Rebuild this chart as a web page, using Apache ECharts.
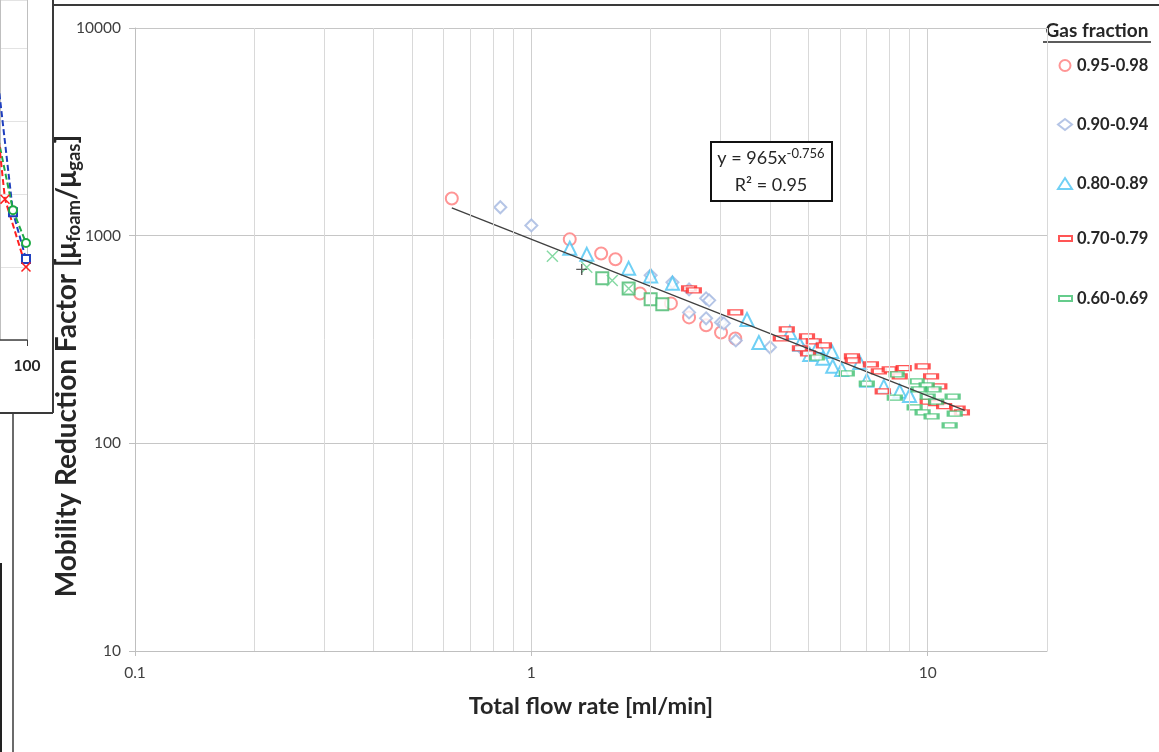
<!DOCTYPE html>
<html>
<head>
<meta charset="utf-8">
<script src="https://cdn.jsdelivr.net/npm/echarts@6/dist/echarts.min.js"></script>
<style>
html, body { margin: 0; padding: 0; background: #fff; }
#chart { width: 1159px; height: 752px; }
</style>
</head>
<body>
<div id="chart"></div>
<script>
const FONT = 'Lato, "Open Sans", sans-serif';

// gas fraction groups: [total flow rate ml/min, mobility reduction factor]
const gas95to98 = [
    [0.63, 1510], [1.25, 960], [1.50, 820], [1.63, 770], [1.88, 527],
    [2.25, 472], [2.50, 404], [2.76, 370], [3.01, 342], [3.27, 320]
];
const gas90to94 = [
    [0.835, 1370], [1.0, 1120], [2.0, 644], [2.27, 596], [2.5, 551],
    [2.76, 499], [2.81, 488], [2.5, 427], [2.76, 400], [3.01, 382],
    [3.06, 378], [3.28, 313], [4.0, 290], [4.8, 287]
];
const gas80to89 = [
    [1.25, 870], [1.38, 813], [1.76, 696], [2.0, 640], [2.27, 590],
    [3.5, 395], [3.75, 306], [4.49, 342], [4.76, 300], [5.28, 293],
    [5.73, 277], [5.04, 268], [5.44, 257], [5.76, 235], [6.07, 227],
    [6.74, 245], [7.02, 201], [7.75, 188], [8.5, 178], [9.0, 170]
];
const gas70to79 = [
    [2.5, 557], [2.57, 545], [3.27, 427], [4.41, 354], [4.26, 320],
    [4.96, 327], [5.16, 310], [5.47, 296], [4.99, 271], [4.76, 287],
    [6.44, 262], [6.47, 251], [7.19, 240], [7.53, 222], [8.02, 227],
    [8.7, 230], [8.5, 210], [9.71, 235], [10.2, 210], [10.7, 188],
    [10.0, 159], [10.5, 156], [11.0, 151], [11.9, 147], [12.2, 141],
    [7.7, 178]
];
const gas60to69 = [
    [5.25, 259], [6.25, 217], [7.02, 194], [8.35, 215], [8.26, 166],
    [9.38, 199], [9.94, 190], [9.49, 182], [10.35, 182], [10.0, 168],
    [11.56, 168], [10.5, 159], [9.27, 149], [9.71, 141], [10.23, 135],
    [11.7, 139], [11.36, 122]
];
// extra markers without legend entry
const greenCross = [[1.13, 795], [1.38, 704], [1.60, 609], [1.76, 557]];
const greenSquare = [[1.51, 623], [1.76, 557], [2.0, 494], [2.14, 467]];
const blackPlus = [[1.34, 688]];

// power-law fit y = 965x^-0.756, end points
const fitLine = [[0.63, 1360], [12.4, 144]];

const minorX = [0.2, 0.3, 0.4, 0.5, 0.6, 0.7, 0.8, 0.9, 2, 3, 4, 5, 6, 7, 8, 9, 20];

// cropped neighbour panel on the left
const leftBlue = [[86.07, 5.71], [95.85, 1.75], [99.7, 1.11]];
const leftGreen = [[86.07, 3.97], [95.85, 1.78], [99.7, 1.33]];
const leftRed = [[86.07, 5.15], [93.48, 1.93], [99.7, 1.0]];

const legendNames = ['0.95-0.98', '0.90-0.94', '0.80-0.89', '0.70-0.79', '0.60-0.69'];

const chart = echarts.init(document.getElementById('chart'));

const logLabel = (v) => String(+Number(v).toPrecision(6));

function scatter(name, data, symbol, size, color) {
    return {
        name: name,
        type: 'scatter',
        data: data,
        symbol: symbol,
        symbolSize: size,
        itemStyle: { color: color, borderColor: color, borderWidth: 1.2 },
        z: 3
    };
}

function pathScatter(name, data, path, size, color) {
    return {
        name: name,
        type: 'scatter',
        data: data,
        symbol: path,
        symbolSize: size,
        itemStyle: { color: 'transparent', borderColor: color, borderWidth: 1.4 },
        z: 3
    };
}

function leftLine(data, color, symbol, size) {
    return {
        type: 'line',
        xAxisIndex: 1,
        yAxisIndex: 1,
        data: data.map((d, i) => i === 0 ? { value: d, symbol: 'none' } : d),
        symbol: symbol,
        symbolSize: size,
        showAllSymbol: true,
        clip: true,
        lineStyle: { color: color, width: 2, type: [6, 3] },
        itemStyle: { color: color, borderColor: color, borderWidth: 1.5 },
        silent: true
    };
}

const legendText = { fontFamily: FONT, fontSize: 16.5, fontWeight: 'bold', color: '#262626', lineHeight: 16 };

chart.setOption({
    animation: false,
    backgroundColor: '#fff',
    grid: [
        { left: 135, right: 112, top: 28, bottom: 101 },
        { left: 0, width: 27, top: 0, bottom: 412 }
    ],
    legend: [
        {
            data: legendNames.slice(0, 3),
            orient: 'vertical',
            left: 1052,
            top: 52,
            itemWidth: 14,
            itemHeight: 11,
            itemGap: 42,
            textStyle: legendText
        },
        {
            data: legendNames.slice(3),
            orient: 'vertical',
            left: 1053,
            top: 225,
            itemWidth: 13,
            itemHeight: 5,
            itemGap: 43,
            textStyle: legendText
        }
    ],
    xAxis: [
        {
            type: 'log',
            logBase: 10,
            min: 0.1,
            max: 20,
            gridIndex: 0,
            name: 'Total flow rate [ml/min]',
            nameLocation: 'middle',
            nameGap: 43,
            nameTextStyle: { fontFamily: FONT, fontSize: 23.5, fontWeight: 'bold', color: '#262626' },
            axisLine: { lineStyle: { color: '#bfbfbf' } },
            axisTick: { show: true, length: 5, lineStyle: { color: '#bfbfbf' } },
            axisLabel: { fontFamily: FONT, fontSize: 15.5, color: '#404040', margin: 14, showMaxLabel: false, formatter: logLabel },
            splitLine: { show: true, lineStyle: { color: '#cfcfcf' } }
        },
        {
            type: 'value',
            gridIndex: 1,
            min: 92,
            max: 100,
            interval: 8,
            axisLine: { lineStyle: { color: '#404040', width: 1.5 } },
            axisTick: { show: true, length: 6, lineStyle: { color: '#404040' } },
            axisLabel: { fontFamily: FONT, fontSize: 15.5, fontWeight: 'bold', color: '#262626', margin: 18, showMinLabel: false },
            splitLine: { show: true, lineStyle: { color: '#bfbfbf' } }
        }
    ],
    yAxis: [
        {
            type: 'log',
            logBase: 10,
            min: 10,
            max: 10000,
            gridIndex: 0,
            axisLine: { show: true, lineStyle: { color: '#bfbfbf' } },
            axisTick: { show: true, length: 6, lineStyle: { color: '#bfbfbf' } },
            axisLabel: { fontFamily: FONT, fontSize: 15.5, color: '#404040', margin: 14, formatter: logLabel },
            splitLine: { show: true, lineStyle: { color: '#c6c6c6' } }
        },
        {
            type: 'value',
            gridIndex: 1,
            min: 0,
            max: 4.66,
            interval: 1,
            axisLine: { show: false },
            axisTick: { show: false },
            axisLabel: { show: false },
            splitLine: { show: true, lineStyle: { color: '#e3e3e3' } }
        }
    ],
    series: [
        {
            type: 'line',
            data: [],
            silent: true,
            z: 1,
            markLine: {
                silent: true,
                symbol: ['none', 'none'],
                label: { show: false },
                lineStyle: { color: '#d9d9d9', type: 'solid', width: 1 },
                data: minorX.map(v => ({ xAxis: v }))
            }
        },
        scatter(legendNames[0], gas95to98, 'emptyCircle', 12, '#ff7b7b'),
        scatter(legendNames[1], gas90to94, 'emptyDiamond', 12, '#a3b6e0'),
        scatter(legendNames[2], gas80to89, 'emptyTriangle', 13, '#4cc4f2'),
        scatter(legendNames[3], gas70to79, 'emptyRect', [13, 5], '#ff2a2a'),
        scatter(legendNames[4], gas60to69, 'emptyRect', [13, 5], '#3fbf6f'),
        scatter('squares', greenSquare, 'emptyRect', 12, '#45b86c'),
        pathScatter('cross', greenCross, 'path://M0 0L10 10M10 0L0 10', 11, '#66cf8c'),
        pathScatter('plus', blackPlus, 'path://M5 0L5 10M0 5L10 5', 11, '#333333'),
        {
            name: 'fit',
            type: 'line',
            data: fitLine,
            symbol: 'none',
            lineStyle: { color: '#404040', width: 1.3 },
            z: 4,
            silent: true
        },
        leftLine(leftBlue, '#1f3fbf', 'emptyRect', 8),
        leftLine(leftGreen, '#1faa45', 'emptyCircle', 8),
        leftLine(leftRed, '#ff2020', 'path://M0 0L10 10M10 0L0 10', 9)
    ],
    graphic: [
        // frame of this panel and neighbouring cropped panels
        { type: 'line', shape: { x1: 53, y1: 5, x2: 1159, y2: 5 }, style: { stroke: '#3a3a3a', lineWidth: 2 }, silent: true },
        { type: 'line', shape: { x1: 53, y1: 0, x2: 53, y2: 413 }, style: { stroke: '#3a3a3a', lineWidth: 2 }, silent: true },
        { type: 'line', shape: { x1: 0, y1: 413, x2: 53, y2: 413 }, style: { stroke: '#3a3a3a', lineWidth: 2 }, silent: true },
        { type: 'line', shape: { x1: 13, y1: 413, x2: 13, y2: 752 }, style: { stroke: '#3a3a3a', lineWidth: 1.5 }, silent: true },
        { type: 'line', shape: { x1: 1, y1: 563, x2: 1, y2: 752 }, style: { stroke: '#222', lineWidth: 2 }, silent: true },
        // y axis title
        {
            type: 'text',
            x: 67,
            y: 366,
            rotation: Math.PI / 2,
            silent: true,
            style: {
                text: '{a|Mobility Reduction Factor [μ}{s|foam}{a|/μ}{s|gas}{a|]}',
                align: 'center',
                verticalAlign: 'middle',
                rich: {
                    a: { fontFamily: FONT, fontSize: 28, fontWeight: 'bold', fill: '#262626', lineHeight: 34 },
                    s: { fontFamily: FONT, fontSize: 18.5, fontWeight: 'bold', fill: '#262626', verticalAlign: 'bottom', lineHeight: 34 }
                }
            }
        },
        // legend heading
        {
            type: 'text',
            x: 1097,
            y: 31,
            silent: true,
            style: {
                text: 'Gas fraction',
                align: 'center',
                verticalAlign: 'middle',
                fontFamily: FONT,
                fontSize: 19,
                fontWeight: 'bold',
                fill: '#262626'
            }
        },
        { type: 'line', shape: { x1: 1043, y1: 42, x2: 1151, y2: 42 }, style: { stroke: '#262626', lineWidth: 1.5 }, silent: true },
        // trend line equation box
        {
            type: 'group',
            silent: true,
            children: [
                { type: 'rect', shape: { x: 711, y: 142, width: 121, height: 59 }, style: { fill: '#fff', stroke: '#111', lineWidth: 2 }, z: 10 },
                {
                    type: 'text', x: 771, y: 158, z: 11,
                    style: {
                        text: '{a|y = 965x}{s|-0.756}',
                        align: 'center', verticalAlign: 'middle',
                        rich: {
                            a: { fontFamily: FONT, fontSize: 18, fill: '#262626', lineHeight: 22 },
                            s: { fontFamily: FONT, fontSize: 13, fill: '#262626', verticalAlign: 'top', lineHeight: 22 }
                        }
                    }
                },
                {
                    type: 'text', x: 771, y: 185, z: 11,
                    style: {
                        text: 'R² = 0.95',
                        align: 'center', verticalAlign: 'middle',
                        fontFamily: FONT, fontSize: 18, fill: '#262626'
                    }
                }
            ]
        }
    ]
});

window.addEventListener('resize', () => {
    chart && chart.resize();
});
</script>
</body>
</html>
